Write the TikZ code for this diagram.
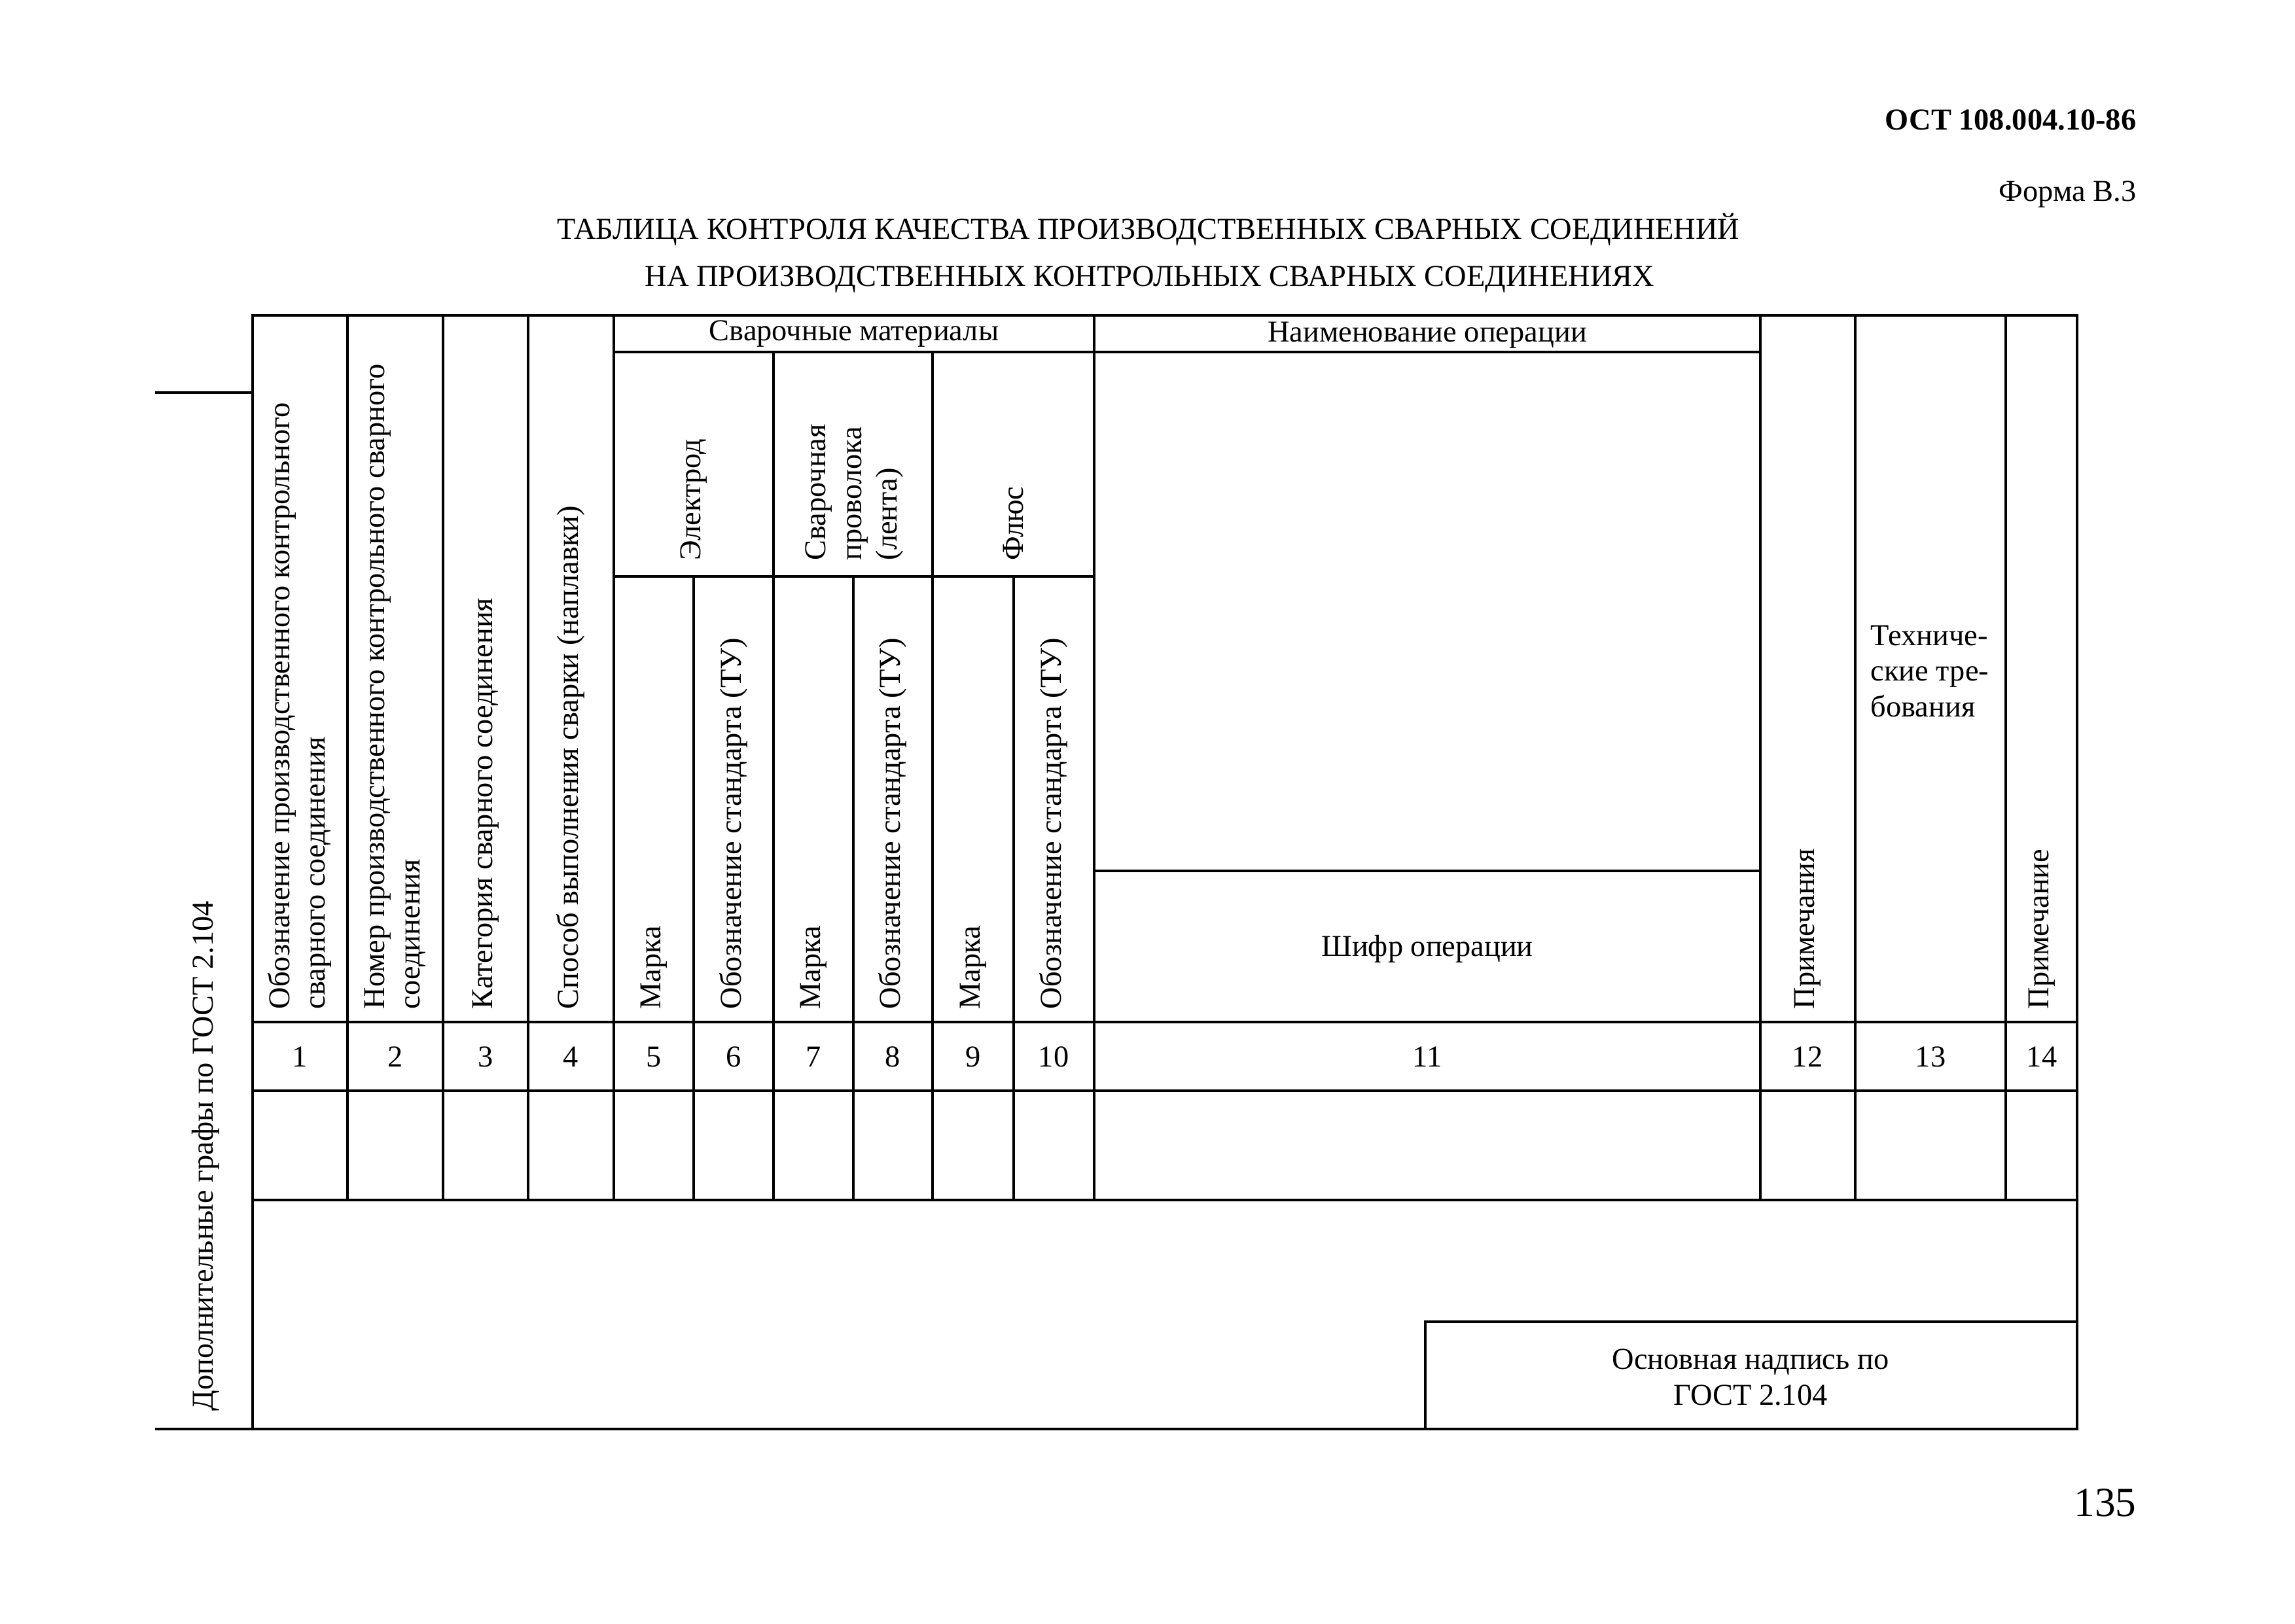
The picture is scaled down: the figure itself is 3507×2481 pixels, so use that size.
\documentclass[tikz,border=0pt]{standalone}
\usepackage{fontspec}
\setmainfont{Liberation Serif}
\usetikzlibrary{positioning, calc}
\newcommand{\formfont}{\fontsize{13.2}{15.5}\selectfont}
\tikzset{
  gridline/.style={line width=1.3pt, line cap=rect},
  vlabel/.style={rotate=90, anchor=west, align=left, inner sep=0pt, font=\formfont},
  hlabel/.style={align=center, inner sep=0pt, font=\formfont},
  numlabel/.style={inner sep=0pt, font=\formfont},
}

\begin{document}
\begin{tikzpicture}[x=0.01cm, y=-0.01cm]
  \useasboundingbox (0,0) rectangle (3507,2481);

  % Grid
  \draw[gridline] (239,600) -- (386,600);
  \draw[gridline] (386,482) -- (3174,482);
  \draw[gridline] (938,538) -- (2690,538);
  \draw[gridline] (938,881) -- (1672,881);
  \draw[gridline] (1672,1331) -- (2690,1331);
  \foreach \y in {1562,1667,1834} \draw[gridline] (386,\y) -- (3174,\y);
  \draw[gridline] (239,2184) -- (3174,2184);
  \draw[gridline] (2178,2020) -- (3174,2020) (2178,2020) -- (2178,2184);
  \foreach \x in {386,3174} \draw[gridline] (\x,482) -- (\x,2184);
  \foreach \x in {531,677,807,938,1672,2690,2835,3065} \draw[gridline] (\x,482) -- (\x,1834);
  \foreach \x in {1182,1425} \draw[gridline] (\x,538) -- (\x,1834);
  \foreach \x in {1060,1304,1549} \draw[gridline] (\x,881) -- (\x,1834);

  % Heading
  \node[font=\formfont\bfseries, anchor=east, inner sep=0pt] (ost) at (3265,183) {ОСТ 108.004.10-86};
  \node[font=\formfont, anchor=east, inner sep=0pt] (forma) at (3265,297) {Форма В.3};
  \node[hlabel] (title1) at (1755,351) {ТАБЛИЦА КОНТРОЛЯ КАЧЕСТВА ПРОИЗВОДСТВЕННЫХ СВАРНЫХ СОЕДИНЕНИЙ};
  \node[hlabel] (title2) at (1757,427) {НА ПРОИЗВОДСТВЕННЫХ КОНТРОЛЬНЫХ СВАРНЫХ СОЕДИНЕНИЯХ};

  % Column heads
  \node[vlabel] (h1) at (458,1543) {Обозначение производственного контрольного\\сварного соединения};
  \node[vlabel] (h2) at (604,1543) {Номер производственного контрольного сварного\\соединения};
  \node[vlabel] (h3) at (742,1543) {Категория сварного соединения};
  \node[vlabel] (h4) at (872,1543) {Способ выполнения сварки (наплавки)};
  \node[hlabel] (mat) at (1305,510) {Сварочные материалы};
  \node[vlabel] (electrode) at (1060,857) {Электрод};
  \node[vlabel] (wire) at (1306,857) {Сварочная\\проволока\\(лента)};
  \node[vlabel] (flux) at (1549,857) {Флюс};
  \foreach \x/\n in {999/5,1243/7,1487/9} \node[vlabel] (h\n) at (\x,1543) {Марка};
  \foreach \x/\n in {1121/6,1364/8,1610/10} \node[vlabel] (h\n) at (\x,1543) {Обозначение стандарта (ТУ)};
  \node[hlabel] (opname) at (2181,512) {Наименование операции};
  \node[hlabel] (opcode) at (2181,1450) {Шифр операции};
  \node[vlabel] (h12) at (2762,1543) {Примечания};
  \node[hlabel, anchor=north west, align=left] (h13) at (2858,955) {Техниче-\\ские тре-\\бования};
  \node[vlabel] (h14) at (3120,1543) {Примечание};

  % Column numbers
  \foreach \x/\n in {458/1,604/2,742/3,872/4,999/5,1121/6,1243/7,1364/8,1487/9,1610/10,2181/11,2762/12,2950/13,3120/14}
    \node[numlabel] (n\n) at (\x,1615) {\n};

  % Side and title block
  \node[vlabel] (extra) at (314,2157) {Дополнительные графы по ГОСТ 2.104};
  \node[hlabel] (stamp) at (2675,2105) {Основная надпись по\\ГОСТ 2.104};
  \node[font=\fontsize{18}{20}\selectfont, anchor=east, inner sep=0pt] (page) at (3265,2297) {135};
\end{tikzpicture}
\end{document}
